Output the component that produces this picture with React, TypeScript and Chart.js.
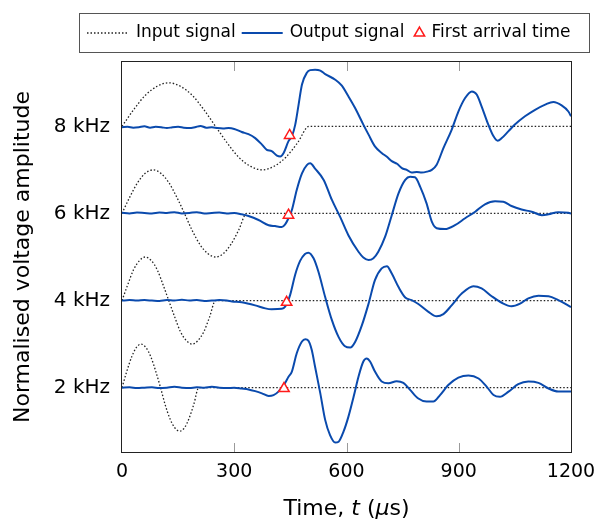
import React, { useEffect, useRef } from 'react';
import { Chart, registerables } from 'chart.js';

Chart.register(...registerables);

const FONT = "'DejaVu Sans', 'Liberation Sans', sans-serif";

// ---- axes ----
const xMin = 0;
const xMax = 1200;
const xTickStep = 300;
const yMin = 0.5;
const yMax = 9.5;
const yTickValues = [2, 4, 6, 8];
const yTickLabels = ['2 kHz', '4 kHz', '6 kHz', '8 kHz'];
const baselines = [2, 4, 6, 8];

const xTitleParts = [
  { text: 'Time, ', italic: false },
  { text: 't', italic: true },
  { text: ' (', italic: false },
  { text: 'μ', italic: true },
  { text: 's)', italic: false },
];
const yTitle = 'Normalised voltage amplitude';
const legendLabels = ['Input signal', 'Output signal', 'First arrival time'];

// ---- input signals (one sine cycle) ----
const sineShape = [0, 0.38, 0.71, 0.92, 1, 0.92, 0.71, 0.38, 0, -0.38, -0.71, -0.92, -1, -0.92, -0.71, -0.38, 0, 0];
const input2Times = [0, 13, 26, 38, 51, 64, 77, 90, 103, 115, 128, 141, 154, 167, 179, 192, 205, 1200];
const input4Times = [0, 16, 31, 47, 62, 78, 94, 109, 125, 141, 156, 172, 188, 203, 219, 234, 250, 1200];
const input6Times = [0, 21, 42, 62, 83, 104, 125, 146, 167, 187, 208, 229, 250, 271, 291, 312, 333, 1200];
const input8Times = [0, 31, 62, 94, 125, 156, 188, 219, 250, 281, 312, 344, 375, 406, 438, 469, 500, 1200];

// ---- output signals ----
const output2Times = [0, 20, 40, 60, 80, 100, 120, 140, 160, 180, 200, 220, 240, 260, 280, 300, 320, 338, 356, 374, 392, 405, 418, 436, 445, 454, 467, 481, 490, 498, 507, 516, 530, 543, 556, 570, 579, 592, 605, 619, 632, 645, 654, 663, 676, 694, 712, 734, 752, 770, 792, 814, 832, 850, 872, 899, 926, 953, 975, 993, 1010, 1033, 1059, 1086, 1113, 1140, 1166, 1200];
const output2Values = [0.0, 0.01, -0.01, 0.0, 0.01, -0.01, 0.0, 0.02, 0.0, -0.01, 0.01, 0.0, 0.02, 0.0, -0.01, 0.0, -0.02, -0.04, -0.08, -0.13, -0.19, -0.17, -0.09, 0.11, 0.25, 0.37, 0.79, 1.06, 1.11, 1.08, 0.87, 0.48, -0.13, -0.74, -1.09, -1.26, -1.24, -1.01, -0.67, -0.21, 0.25, 0.6, 0.67, 0.6, 0.37, 0.14, 0.1, 0.15, 0.11, -0.05, -0.25, -0.32, -0.32, -0.17, 0.06, 0.23, 0.28, 0.21, 0.02, -0.17, -0.21, -0.09, 0.08, 0.14, 0.11, -0.02, -0.09, -0.09];

const output4Times = [0, 20, 40, 60, 80, 100, 120, 140, 160, 180, 200, 220, 240, 260, 280, 294, 320, 356, 383, 400, 427, 436, 449, 463, 476, 489, 498, 512, 525, 543, 561, 579, 596, 610, 623, 641, 659, 676, 694, 708, 721, 739, 757, 774, 792, 819, 841, 859, 881, 908, 939, 961, 988, 1015, 1041, 1064, 1086, 1113, 1140, 1166, 1200];
const output4Values = [0.0, 0.01, 0.0, 0.01, 0.0, -0.01, 0.01, 0.0, 0.02, 0.0, 0.01, -0.01, 0.0, 0.01, 0.0, -0.02, -0.04, -0.11, -0.18, -0.2, -0.19, -0.14, 0.12, 0.6, 0.91, 1.07, 1.1, 0.97, 0.66, 0.08, -0.45, -0.84, -1.05, -1.08, -0.95, -0.57, -0.07, 0.47, 0.74, 0.79, 0.62, 0.31, 0.07, 0.01, -0.08, -0.26, -0.36, -0.31, -0.11, 0.16, 0.33, 0.28, 0.1, -0.05, -0.13, -0.07, 0.05, 0.11, 0.1, 0.01, -0.15];

const output6Times = [0, 20, 40, 60, 80, 100, 120, 140, 160, 180, 200, 220, 240, 260, 280, 300, 320, 338, 365, 392, 409, 427, 436, 445, 454, 467, 481, 494, 503, 516, 539, 561, 583, 605, 632, 645, 659, 672, 685, 703, 721, 739, 757, 770, 783, 797, 814, 828, 841, 863, 890, 917, 944, 970, 997, 1019, 1041, 1068, 1095, 1122, 1140, 1166, 1193, 1200];
const output6Values = [0.015, 0.0, 0.02, 0.01, 0.0, 0.02, 0.01, 0.03, 0.0, 0.01, 0.03, 0.0, 0.01, 0.02, 0.0, 0.01, -0.02, -0.06, -0.15, -0.27, -0.29, -0.31, -0.25, -0.11, 0.08, 0.54, 0.92, 1.11, 1.15, 1.03, 0.77, 0.31, -0.08, -0.5, -0.88, -1.01, -1.07, -1.03, -0.88, -0.54, -0.04, 0.46, 0.77, 0.84, 0.83, 0.61, 0.23, -0.19, -0.34, -0.36, -0.27, -0.11, 0.04, 0.21, 0.28, 0.27, 0.17, 0.09, 0.04, -0.04, -0.02, 0.03, 0.015, 0.0];

const output8Times = [0, 15, 30, 45, 60, 75, 90, 105, 120, 135, 150, 165, 180, 195, 210, 225, 240, 255, 270, 285, 300, 320, 338, 356, 374, 387, 400, 414, 423, 432, 445, 454, 463, 472, 481, 494, 503, 516, 530, 543, 570, 587, 605, 623, 645, 659, 676, 694, 708, 721, 735, 748, 761, 774, 788, 801, 815, 828, 841, 859, 881, 899, 917, 935, 948, 961, 979, 993, 1004, 1015, 1033, 1050, 1077, 1104, 1131, 1153, 1175, 1193, 1200];
const output8Values = [-0.02, -0.01, -0.03, -0.02, 0.0, -0.03, -0.01, -0.02, -0.04, -0.02, -0.01, -0.03, -0.04, -0.02, 0.01, -0.03, -0.02, -0.04, -0.05, -0.04, -0.06, -0.13, -0.18, -0.27, -0.42, -0.54, -0.57, -0.67, -0.69, -0.61, -0.34, -0.23, 0.04, 0.5, 0.96, 1.23, 1.29, 1.3, 1.28, 1.2, 1.07, 0.94, 0.69, 0.42, 0.04, -0.19, -0.46, -0.61, -0.7, -0.8, -0.86, -0.96, -1.0, -1.06, -1.05, -1.06, -1.04, -1.0, -0.88, -0.5, -0.08, 0.34, 0.65, 0.8, 0.73, 0.46, 0.04, -0.23, -0.33, -0.27, -0.11, 0.04, 0.23, 0.38, 0.5, 0.56, 0.48, 0.34, 0.23];

// ---- first arrival markers (2, 4, 6, 8 kHz) ----
const arrivalTimes = [433, 440, 445, 448];
const arrivalValues = [-0.02, -0.04, -0.04, -0.21];

// ---- styles ----
const inputColor = '#222222';
const outputColor = '#0a4aad';
const arrivalColor = '#ff1a1a';
const inputDash = [1.5, 2];

const inputTimes = [input2Times, input4Times, input6Times, input8Times];
const outputTimes = [output2Times, output4Times, output6Times, output8Times];
const outputValues = [output2Values, output4Values, output6Values, output8Values];

function buildDatasets() {
  const ds: any[] = [];
  ds.push({
    label: legendLabels[2],
    data: arrivalTimes.map((t, i) => ({ x: t, y: baselines[i] + arrivalValues[i] })),
    showLine: false,
    pointStyle: 'triangle',
    pointRadius: 6,
    pointBorderColor: arrivalColor,
    pointBackgroundColor: '#ffffff',
    pointBorderWidth: 1.5,
    borderColor: arrivalColor,
    backgroundColor: '#ffffff',
    order: 0,
  });
  baselines.forEach((b, i) => {
    ds.push({
      label: legendLabels[1],
      data: outputTimes[i].map((t, j) => ({ x: t, y: b + outputValues[i][j] })),
      borderColor: outputColor,
      borderWidth: 2,
      pointRadius: 0,
      cubicInterpolationMode: 'monotone',
      fill: false,
      order: 1,
    });
  });
  baselines.forEach((b, i) => {
    ds.push({
      label: legendLabels[0],
      data: inputTimes[i].map((t, j) => ({ x: t, y: b + sineShape[j] })),
      borderColor: inputColor,
      borderWidth: 1.3,
      borderDash: inputDash,
      pointRadius: 0,
      cubicInterpolationMode: 'monotone',
      fill: false,
      order: 2,
    });
  });
  return ds;
}

const innerTicksPlugin = {
  id: 'innerTicks',
  beforeDatasetsDraw(chart: any) {
    const { ctx, chartArea, scales } = chart;
    const { top, bottom } = chartArea;
    ctx.save();
    ctx.strokeStyle = '#9a9a9a';
    ctx.lineWidth = 1;
    for (let v = xMin + xTickStep; v < xMax; v += xTickStep) {
      const px = Math.round(scales.x.getPixelForValue(v)) + 0.5;
      ctx.beginPath();
      ctx.moveTo(px, top);
      ctx.lineTo(px, top + 10);
      ctx.moveTo(px, bottom);
      ctx.lineTo(px, bottom - 10);
      ctx.stroke();
    }
    ctx.restore();
  },
  afterDatasetsDraw(chart: any) {
    const { ctx, chartArea } = chart;
    const { left, right, top, bottom } = chartArea;
    ctx.save();
    ctx.strokeStyle = '#222';
    ctx.lineWidth = 1;
    ctx.strokeRect(Math.round(left) - 0.5, Math.round(top) + 0.5, Math.round(right - left) + 1, Math.round(bottom - top) - 1);
    ctx.restore();
  },
};

const xTitlePlugin = {
  id: 'xTitle',
  afterDraw(chart: any) {
    const { ctx, chartArea } = chart;
    ctx.save();
    ctx.fillStyle = '#000';
    ctx.textBaseline = 'middle';
    const fonts = xTitleParts.map((p) => `${p.italic ? 'italic ' : ''}22px ${FONT}`);
    let total = 0;
    const widths = xTitleParts.map((p, i) => {
      ctx.font = fonts[i];
      const w = ctx.measureText(p.text).width;
      total += w;
      return w;
    });
    let x = (chartArea.left + chartArea.right) / 2 - total / 2;
    const y = 509;
    xTitleParts.forEach((p, i) => {
      ctx.font = fonts[i];
      ctx.fillText(p.text, x, y);
      x += widths[i];
    });
    ctx.restore();
  },
};

const legendPlugin = {
  id: 'boxLegend',
  afterDraw(chart: any) {
    const { ctx } = chart;
    ctx.save();
    ctx.strokeStyle = '#555';
    ctx.lineWidth = 1;
    ctx.strokeRect(79.5, 13.5, 510, 39);
    const y = 33;
    let x = 87;
    ctx.font = `17px ${FONT}`;
    ctx.textBaseline = 'middle';
    ctx.fillStyle = '#000';
    // input
    ctx.setLineDash(inputDash);
    ctx.strokeStyle = inputColor;
    ctx.lineWidth = 1.3;
    ctx.beginPath();
    ctx.moveTo(x, y);
    ctx.lineTo(x + 41, y);
    ctx.stroke();
    ctx.setLineDash([]);
    x += 41 + 8;
    ctx.fillText(legendLabels[0], x, y);
    x += ctx.measureText(legendLabels[0]).width + 6;
    // output
    ctx.strokeStyle = outputColor;
    ctx.lineWidth = 2;
    ctx.beginPath();
    ctx.moveTo(x, y);
    ctx.lineTo(x + 41, y);
    ctx.stroke();
    x += 41 + 7;
    ctx.fillText(legendLabels[1], x, y);
    x += ctx.measureText(legendLabels[1]).width + 9;
    // triangle
    const r = 6;
    const cx = x + 6;
    ctx.beginPath();
    ctx.moveTo(cx, y - r);
    ctx.lineTo(cx + r * Math.sin(Math.PI / 3), y + r / 2);
    ctx.lineTo(cx - r * Math.sin(Math.PI / 3), y + r / 2);
    ctx.closePath();
    ctx.fillStyle = '#fff';
    ctx.fill();
    ctx.strokeStyle = arrivalColor;
    ctx.lineWidth = 1.5;
    ctx.stroke();
    x += 12 + 6;
    ctx.fillStyle = '#000';
    ctx.fillText(legendLabels[2], x, y);
    ctx.restore();
  },
};

export default function App() {
  const canvasRef = useRef<HTMLCanvasElement>(null);

  useEffect(() => {
    if (!canvasRef.current) return;
    Chart.defaults.font.family = FONT;
    const chart = new Chart(canvasRef.current, {
      type: 'line',
      data: { datasets: buildDatasets() },
      options: {
        animation: false,
        responsive: false,
        maintainAspectRatio: false,
        layout: { padding: { top: 61, right: 26, left: 0, bottom: 0 } },
        plugins: {
          legend: { display: false },
          tooltip: { enabled: false },
        },
        scales: {
          x: {
            type: 'linear',
            min: xMin,
            max: xMax,
            grid: { display: false, drawTicks: false },
            border: { display: false },
            ticks: {
              stepSize: xTickStep,
              padding: 8,
              color: '#000',
              font: { size: 19, family: FONT },
              maxRotation: 0,
              callback: (v: any) => String(v),
            },
            afterFit: (scale: any) => {
              scale.height = 68;
              scale.paddingLeft = 0;
              scale.paddingRight = 0;
            },
          },
          y: {
            type: 'linear',
            min: yMin,
            max: yMax,
            grid: { display: false, drawTicks: false },
            border: { display: false },
            afterBuildTicks: (scale: any) => {
              scale.ticks = yTickValues.map((v) => ({ value: v }));
            },
            ticks: {
              padding: 12,
              color: '#000',
              autoSkip: false,
              font: { size: 20, family: FONT },
              callback: (v: any) => {
                const idx = yTickValues.indexOf(Number(v));
                return idx >= 0 ? yTickLabels[idx] : '';
              },
            },
            title: {
              display: true,
              text: yTitle,
              color: '#000',
              font: { size: 22, family: FONT },
              padding: { top: 10, bottom: 0 },
            },
            afterFit: (scale: any) => {
              scale.width = 122;
              scale.paddingTop = 0;
              scale.paddingBottom = 0;
            },
          },
        },
      },
      plugins: [innerTicksPlugin, xTitlePlugin, legendPlugin],
    } as any);
    return () => chart.destroy();
  }, []);

  return (
    <div style={{ position: 'fixed', left: 0, top: 0, width: 597, height: 521, background: '#fff' }}>
      <canvas ref={canvasRef} width={597} height={521} style={{ display: 'block' }} />
    </div>
  );
}
